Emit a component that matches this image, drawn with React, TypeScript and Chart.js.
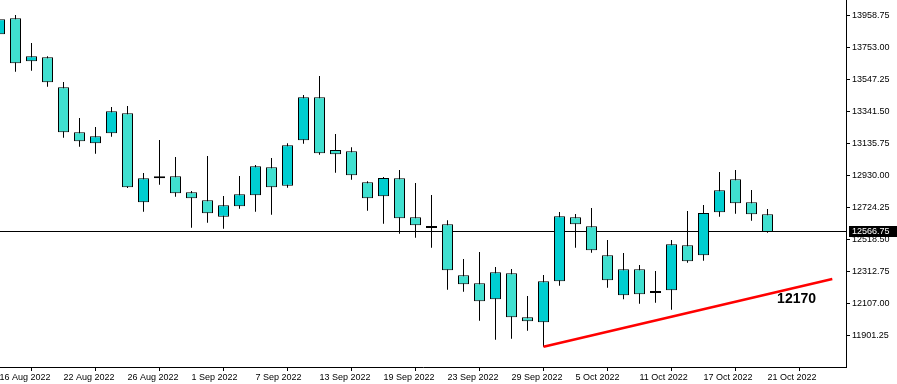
import React, { useEffect, useRef } from 'react';
import { Chart, registerables } from 'chart.js';

Chart.register(...registerables);

// ---- data ----
const dates = [
  '16 Aug 2022', '17 Aug 2022', '18 Aug 2022', '19 Aug 2022',
  '22 Aug 2022', '23 Aug 2022', '24 Aug 2022', '25 Aug 2022', '26 Aug 2022',
  '29 Aug 2022', '30 Aug 2022', '31 Aug 2022', '1 Sep 2022', '2 Sep 2022',
  '5 Sep 2022', '6 Sep 2022', '7 Sep 2022', '8 Sep 2022', '9 Sep 2022',
  '12 Sep 2022', '13 Sep 2022', '14 Sep 2022', '15 Sep 2022', '16 Sep 2022',
  '19 Sep 2022', '20 Sep 2022', '21 Sep 2022', '22 Sep 2022', '23 Sep 2022',
  '26 Sep 2022', '27 Sep 2022', '28 Sep 2022', '29 Sep 2022', '30 Sep 2022',
  '3 Oct 2022', '4 Oct 2022', '5 Oct 2022', '6 Oct 2022', '7 Oct 2022',
  '10 Oct 2022', '11 Oct 2022', '12 Oct 2022', '13 Oct 2022', '14 Oct 2022',
  '17 Oct 2022', '18 Oct 2022', '19 Oct 2022', '20 Oct 2022', '21 Oct 2022',
];

const opens = [
  13837.75, 13940.75, 13664.25, 13690.0,
  13497.0, 13207.75, 13137.0, 13201.25, 13330.0,
  12757.75, 12925.0, 12925.0, 12822.0, 12770.5,
  12665.0, 12732.0, 12802.75, 12982.75, 12864.5,
  13156.25, 13432.75, 13094.0, 13085.5, 12886.25,
  12796.25, 12912.0, 12661.25, 12605.25, 12616.25,
  12288.25, 12237.0, 12134.0, 12301.25, 12018.25,
  11986.0, 12249.75, 12661.25, 12603.5, 12417.0,
  12159.75, 12327.0, 12187.5, 12192.0, 12481.25,
  12417.0, 12693.5, 12905.5, 12757.75, 12680.5,
];

const highs = [
  13939.5, 13962.0, 13782.0, 13696.5,
  13531.25, 13299.75, 13241.75, 13370.5, 13377.0,
  12946.0, 13158.25, 13049.0, 12830.25, 13055.5,
  12798.25, 12926.75, 12997.5, 13042.5, 13137.0,
  13447.5, 13569.75, 13196.75, 13111.25, 12892.75,
  12920.5, 12965.5, 12881.75, 12804.5, 12642.0,
  12393.0, 12438.0, 12341.75, 12328.75, 12155.25,
  12290.25, 12695.25, 12682.5, 12721.0, 12515.25,
  12431.75, 12354.5, 12316.0, 12515.25, 12701.75,
  12740.25, 12952.5, 12965.5, 12836.75, 12714.5,
];

const lows = [
  13830.25, 13597.5, 13603.75, 13501.0,
  13173.0, 13115.25, 13070.25, 13179.5, 12850.0,
  12697.25, 12870.75, 12793.75, 12594.5, 12626.5,
  12588.0, 12716.5, 12697.25, 12678.0, 12851.5,
  13134.5, 13063.75, 12948.0, 12903.0, 12703.75,
  12620.0, 12555.75, 12530.0, 12465.75, 12195.75,
  12183.0, 11996.5, 11874.25, 11880.75, 11932.0,
  11829.25, 12221.5, 12465.75, 12433.5, 12208.5,
  12134.0, 12105.75, 12112.0, 12067.0, 12369.25,
  12382.25, 12665.0, 12684.5, 12639.5, 12562.25,
];

const closes = [
  13934.25, 13651.5, 13696.5, 13529.25,
  13207.75, 13150.0, 13182.0, 13342.75, 12854.0,
  12912.0, 12912.0, 12815.5, 12783.5, 12687.0,
  12738.5, 12809.0, 12989.25, 12854.0, 13124.25,
  13432.75, 13072.75, 13066.25, 12931.25, 12783.5,
  12914.0, 12654.75, 12609.75, 12592.5, 12320.5,
  12230.5, 12121.0, 12307.5, 12018.25, 11992.5,
  12249.75, 12667.75, 12616.25, 12449.0, 12256.25,
  12327.0, 12166.25, 12174.5, 12487.5, 12378.25,
  12689.0, 12834.75, 12751.25, 12680.5, 12566.75,
];

const yTickValues = [
  13958.75, 13753.0, 13547.25, 13341.5, 13135.75, 12930.0,
  12724.25, 12518.5, 12312.75, 12107.0, 11901.25,
];
const xTickStep = 4;

const trendX = [34, 52.05];
const trendY = [11829.25, 12264.5];
const trendLabel = '12170';
const trendLabelX = 48.6;
const trendLabelY = 12170;

const currentPrice = closes[closes.length - 1];

const Y_MIN = 11698.71;
const Y_MAX = 14058.41;
const X_MIN = 0.03125;
const X_MAX = 52.90625;

const BULL = '#00CED1';
const BEAR = '#40E0D0';
const FONT = 'Liberation Sans, Arial, sans-serif';

const overlayPlugin = {
  id: 'mtOverlay',
  beforeDatasetsDraw(chart: any) {
    const { ctx, chartArea, scales } = chart;
    const py = Math.floor(scales.y.getPixelForValue(currentPrice)) + 0.5;
    ctx.save();
    ctx.strokeStyle = '#000';
    ctx.lineWidth = 1;
    ctx.beginPath();
    ctx.moveTo(chartArea.left, py);
    ctx.lineTo(chartArea.right, py);
    ctx.stroke();
    ctx.restore();
  },
  afterDraw(chart: any) {
    const { ctx, chartArea, scales, width } = chart;
    const py = Math.floor(scales.y.getPixelForValue(currentPrice));
    ctx.save();
    ctx.fillStyle = '#000';
    ctx.fillRect(chartArea.right + 3, py - 5, width - chartArea.right - 3, 11);
    ctx.fillStyle = '#fff';
    ctx.font = `9px ${FONT}`;
    ctx.textBaseline = 'middle';
    ctx.textAlign = 'left';
    ctx.fillText(currentPrice.toFixed(2), chartArea.right + 6, py + 0.5);

    const lx = scales.x.getPixelForValue(trendLabelX);
    const ly = scales.y.getPixelForValue(trendLabelY);
    ctx.fillStyle = '#000';
    ctx.font = `bold 14px ${FONT}`;
    ctx.textBaseline = 'middle';
    ctx.fillText(trendLabel, lx, ly + 5.5);
    ctx.restore();
  },
};

export default function App() {
  const canvasRef = useRef<HTMLCanvasElement | null>(null);

  useEffect(() => {
    document.body.style.margin = '0';
    document.body.style.overflow = 'hidden';
    const canvas = canvasRef.current;
    if (!canvas) return;

    const idx = dates.map((_, i) => i);
    const wickData = idx.map((i) => ({ x: i, y: [lows[i], highs[i]] }));
    const bodyData = idx.map((i) => ({ x: i, y: [opens[i], closes[i]] }));
    const bodyColors = idx.map((i) => (closes[i] > opens[i] ? BULL : BEAR));
    const trendData = trendX.map((x, k) => ({ x, y: trendY[k] }));

    const chart = new Chart(canvas, {
      type: 'bar',
      data: {
        datasets: [
          {
            type: 'line',
            data: trendData,
            borderColor: '#ff0000',
            borderWidth: 2.5,
            pointRadius: 0,
            fill: false,
            order: -1,
          } as any,
          {
            data: bodyData as any,
            backgroundColor: bodyColors,
            borderColor: '#000',
            borderWidth: 1,
            borderSkipped: false,
            barThickness: 11,
            grouped: false,
            inflateAmount: 0,
            order: 0,
          } as any,
          {
            data: wickData as any,
            backgroundColor: '#000',
            borderWidth: 0,
            barThickness: 1,
            grouped: false,
            inflateAmount: 0,
            order: 1,
          } as any,
        ],
      },
      options: {
        responsive: false,
        animation: false,
        devicePixelRatio: 1,
        layout: { padding: 0 },
        plugins: {
          legend: { display: false },
          tooltip: { enabled: false },
          title: { display: false },
        },
        scales: {
          x: {
            type: 'linear',
            min: X_MIN,
            max: X_MAX,
            offset: false,
            position: 'bottom',
            border: { display: true, color: '#000', width: 1 },
            grid: {
              display: true,
              drawOnChartArea: false,
              drawTicks: true,
              tickLength: 4,
              tickColor: '#000',
            },
            ticks: {
              autoSkip: false,
              maxRotation: 0,
              minRotation: 0,
              align: 'start',
              padding: 1,
              color: '#000',
              font: { family: FONT, size: 9 },
              callback: (v: any) => dates[Math.round(Number(v))] ?? '',
            },
            afterBuildTicks: (scale: any) => {
              scale.ticks = dates
                .map((_, i) => i)
                .filter((i) => i % xTickStep === 0)
                .map((i) => ({ value: i }));
            },
            afterFit: (scale: any) => {
              scale.height = 17;
              scale.paddingLeft = 0;
              scale.paddingRight = 0;
            },
          },
          y: {
            type: 'linear',
            min: Y_MIN,
            max: Y_MAX,
            position: 'right',
            border: { display: true, color: '#000', width: 1 },
            grid: {
              display: true,
              drawOnChartArea: false,
              drawTicks: true,
              tickLength: 4,
              tickColor: '#000',
            },
            ticks: {
              padding: 2,
              color: '#000',
              font: { family: FONT, size: 9 },
              callback: (v: any) => Number(v).toFixed(2),
            },
            afterBuildTicks: (scale: any) => {
              scale.ticks = yTickValues.map((v) => ({ value: v }));
            },
            afterFit: (scale: any) => {
              scale.width = 51;
              scale.paddingTop = 0;
              scale.paddingBottom = 0;
            },
          },
        },
      } as any,
      plugins: [overlayPlugin],
    });

    return () => chart.destroy();
  }, []);

  return (
    <div style={{ width: 897, height: 384, background: '#fff' }}>
      <canvas ref={canvasRef} width={897} height={384} style={{ display: 'block' }} />
    </div>
  );
}
